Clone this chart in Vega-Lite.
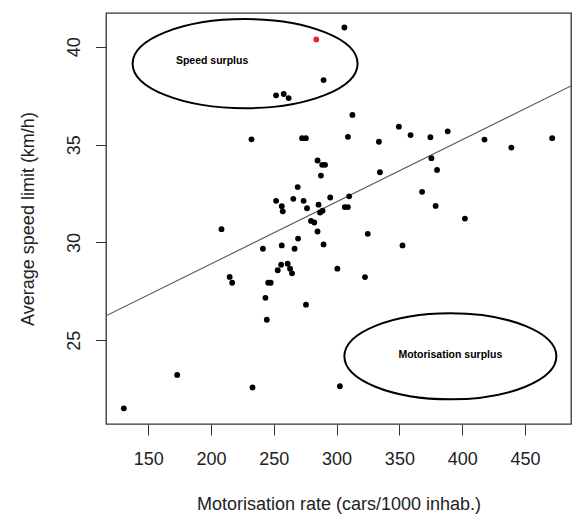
{
  "$schema": "https://vega.github.io/schema/vega-lite/v6.json",
  "width": 465,
  "height": 411,
  "autosize": {"type": "none"},
  "padding": {"left": 106, "top": 13, "right": 9, "bottom": 98},
  "background": "white",
  "config": {
    "font": "Liberation Sans",
    "view": {"stroke": "#333333", "strokeWidth": 1.3}
  },
  "datasets": {
    "regions": [
      {"x": 130.5, "y": 21.52}, {"x": 173.0, "y": 23.23}, {"x": 208.3, "y": 30.68},
      {"x": 214.8, "y": 28.24}, {"x": 216.8, "y": 27.94}, {"x": 232.2, "y": 35.27},
      {"x": 233.0, "y": 22.59}, {"x": 241.3, "y": 29.68}, {"x": 243.3, "y": 27.17},
      {"x": 244.4, "y": 26.05}, {"x": 245.5, "y": 27.94}, {"x": 247.5, "y": 27.94},
      {"x": 251.8, "y": 32.13}, {"x": 251.8, "y": 37.52}, {"x": 253.1, "y": 28.58},
      {"x": 255.8, "y": 28.86}, {"x": 256.3, "y": 31.85}, {"x": 256.3, "y": 29.85},
      {"x": 257.1, "y": 31.59}, {"x": 257.9, "y": 37.59}, {"x": 261.0, "y": 28.91},
      {"x": 261.8, "y": 37.38}, {"x": 262.9, "y": 28.66}, {"x": 264.5, "y": 28.42},
      {"x": 265.5, "y": 32.23}, {"x": 266.5, "y": 29.68}, {"x": 269.0, "y": 32.83},
      {"x": 269.3, "y": 30.2}, {"x": 272.5, "y": 35.33}, {"x": 275.5, "y": 35.33},
      {"x": 273.7, "y": 32.13}, {"x": 275.6, "y": 26.82}, {"x": 276.4, "y": 31.75},
      {"x": 279.6, "y": 31.1}, {"x": 282.2, "y": 31.02}, {"x": 284.8, "y": 34.19},
      {"x": 284.8, "y": 30.56}, {"x": 285.6, "y": 31.93}, {"x": 286.8, "y": 31.53},
      {"x": 287.5, "y": 33.42}, {"x": 288.8, "y": 31.62}, {"x": 288.5, "y": 33.97},
      {"x": 290.8, "y": 33.97}, {"x": 289.6, "y": 29.9}, {"x": 289.6, "y": 38.3},
      {"x": 294.9, "y": 32.3}, {"x": 300.6, "y": 28.66}, {"x": 302.6, "y": 22.65},
      {"x": 306.2, "y": 40.99}, {"x": 306.5, "y": 31.81}, {"x": 309.0, "y": 31.81},
      {"x": 309.0, "y": 35.4}, {"x": 310.0, "y": 32.36}, {"x": 312.6, "y": 36.52},
      {"x": 322.6, "y": 28.23}, {"x": 324.8, "y": 30.44}, {"x": 333.7, "y": 35.15},
      {"x": 334.5, "y": 33.59}, {"x": 349.6, "y": 35.92}, {"x": 352.5, "y": 29.85},
      {"x": 358.9, "y": 35.49}, {"x": 368.1, "y": 32.59}, {"x": 374.7, "y": 35.38},
      {"x": 375.5, "y": 34.31}, {"x": 378.9, "y": 31.87}, {"x": 380.0, "y": 33.71},
      {"x": 388.5, "y": 35.68}, {"x": 402.2, "y": 31.22}, {"x": 417.8, "y": 35.26},
      {"x": 439.2, "y": 34.85}, {"x": 471.7, "y": 35.33}
    ],
    "highlight": [{"x": 283.8, "y": 40.38}],
    "fit": [{"x": 116.3, "y": 26.25}, {"x": 486.7, "y": 38.0}],
    "speed_zone": [{"x": 227.1, "y": 39.14, "label": "Speed surplus"}],
    "motor_zone": [{"x": 390.6, "y": 24.18, "label": "Motorisation surplus"}]
  },
  "encoding": {
    "x": {
      "field": "x",
      "type": "quantitative",
      "scale": {"domain": [116.3, 486.7], "nice": false, "zero": false},
      "axis": {
        "title": "Motorisation rate (cars/1000 inhab.)",
        "values": [150, 200, 250, 300, 350, 400, 450],
        "grid": false,
        "domain": false,
        "tickSize": 11,
        "tickColor": "#333333",
        "labelFontSize": 18,
        "labelColor": "#222222",
        "labelPadding": 15,
        "titleFontSize": 18,
        "titleFontWeight": "normal",
        "titleColor": "#222222",
        "titlePadding": 27
      }
    },
    "y": {
      "field": "y",
      "type": "quantitative",
      "scale": {"domain": [20.72, 41.73], "nice": false, "zero": false},
      "axis": {
        "title": "Average speed limit (km/h)",
        "values": [25, 30, 35, 40],
        "grid": false,
        "domain": false,
        "tickSize": 10.5,
        "tickColor": "#333333",
        "labelAngle": -90,
        "labelAlign": "center",
        "labelBaseline": "bottom",
        "labelFontSize": 18,
        "labelColor": "#222222",
        "labelPadding": 12,
        "titleFontSize": 18,
        "titleFontWeight": "normal",
        "titleColor": "#222222",
        "titlePadding": 28
      }
    }
  },
  "layer": [
    {
      "data": {"name": "fit"},
      "mark": {"type": "line", "color": "#555555", "strokeWidth": 1.1, "clip": true}
    },
    {
      "data": {"name": "regions"},
      "mark": {"type": "circle", "color": "black", "size": 34, "opacity": 1}
    },
    {
      "data": {"name": "highlight"},
      "mark": {"type": "circle", "color": "#f0202a", "size": 34, "opacity": 1}
    },
    {
      "data": {"name": "speed_zone"},
      "mark": {
        "type": "point",
        "shape": "M -1 0 C -1 -0.2187 -0.5523 -0.396 0 -0.396 C 0.5523 -0.396 1 -0.2187 1 0 C 1 0.2187 0.5523 0.396 0 0.396 C -0.5523 0.396 -1 0.2187 -1 0 Z",
        "size": 50625,
        "filled": false,
        "stroke": "black",
        "strokeWidth": 2,
        "opacity": 1
      }
    },
    {
      "data": {"name": "motor_zone"},
      "mark": {
        "type": "point",
        "shape": "M -1 0 C -1 -0.2242 -0.5523 -0.406 0 -0.406 C 0.5523 -0.406 1 -0.2242 1 0 C 1 0.2242 0.5523 0.406 0 0.406 C -0.5523 0.406 -1 0.2242 -1 0 Z",
        "size": 44944,
        "filled": false,
        "stroke": "black",
        "strokeWidth": 2,
        "opacity": 1
      }
    },
    {
      "data": {"name": "speed_zone"},
      "mark": {"type": "text", "fontSize": 10.5, "fontWeight": "bold", "color": "black", "dx": -33, "dy": -3},
      "encoding": {"text": {"field": "label"}}
    },
    {
      "data": {"name": "motor_zone"},
      "mark": {"type": "text", "fontSize": 10.5, "fontWeight": "bold", "color": "black", "dx": 0, "dy": -1},
      "encoding": {"text": {"field": "label"}}
    }
  ]
}
